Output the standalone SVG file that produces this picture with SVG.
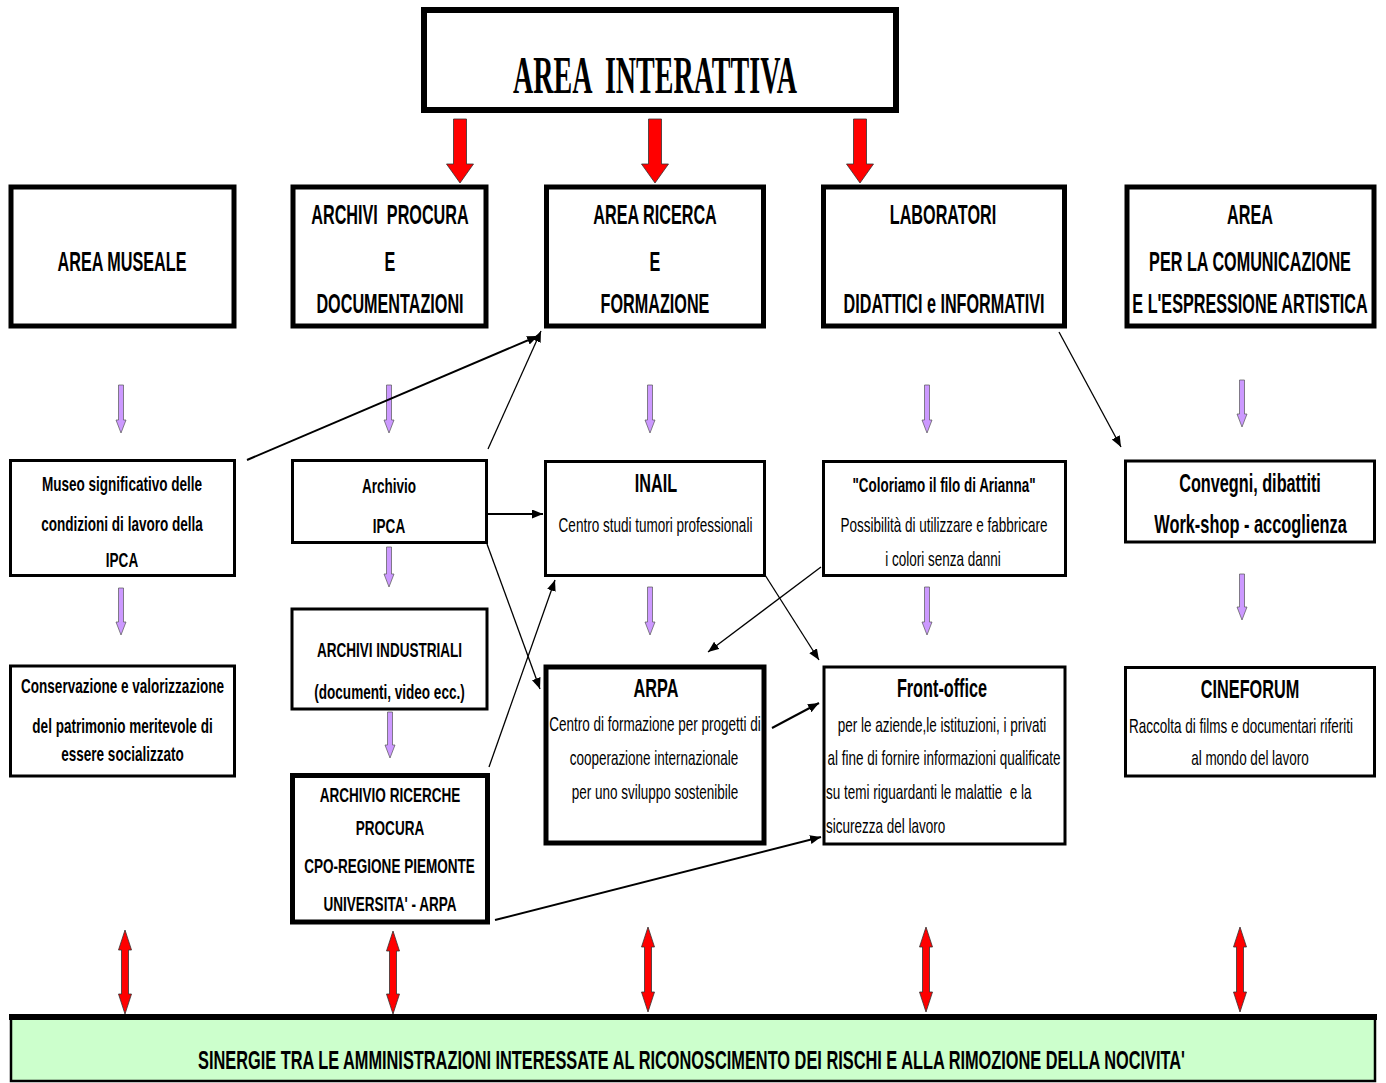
<svg xmlns="http://www.w3.org/2000/svg" width="1386" height="1083" viewBox="0 0 1386 1083">
<style>
  text { font-family: "Liberation Sans", Arial, sans-serif; fill: #000; text-anchor: middle; }
  .h { font-size: 27px; font-weight: bold; }
  .sb { font-size: 21px; font-weight: bold; }
  .bb { font-size: 25px; font-weight: bold; }
  .cb { font-size: 26px; font-weight: bold; }
  .r { font-size: 20px; }
  .l { text-anchor: start; }
  .title { font-family: "Liberation Serif", "Times New Roman", serif; font-size: 53px; font-weight: bold; }
  .box { fill: #fff; stroke: #000; }
  .thick { stroke-width: 5; }
  .thin { stroke-width: 3; }
  .red { fill: #ff0000; stroke: #333; stroke-width: 0.8; }
  .pur { fill: #cc99ff; stroke: #555; stroke-width: 0.7; }
  .con { stroke: #000; fill: none; marker-end: url(#ah); }
</style>
<defs>
  <marker id="ah" markerUnits="userSpaceOnUse" markerWidth="12" markerHeight="10" refX="11" refY="4.5" orient="auto">
    <path d="M0,0 L11,4.5 L0,9 Z" fill="#000"/>
  </marker>
</defs>
<rect x="0" y="0" width="1386" height="1083" fill="#fff"/>

<g id="area-interattiva">
  <rect class="box" x="424" y="10" width="472" height="100" stroke-width="6"/>
  <text class="title" transform="translate(655,93) scale(0.5,1)" textLength="568" lengthAdjust="spacingAndGlyphs" xml:space="preserve">AREA  INTERATTIVA</text>
</g>

<g id="area-museale">
  <rect class="box thick" x="11" y="187" width="223" height="139"/>
  <text class="h" transform="translate(122,271) scale(0.6,1)">AREA MUSEALE</text>
</g>
<g id="archivi-procura">
  <rect class="box thick" x="293" y="187" width="193" height="139"/>
  <text class="h" transform="translate(390,224) scale(0.6,1)" xml:space="preserve">ARCHIVI  PROCURA</text>
  <text class="h" transform="translate(390,271) scale(0.6,1)">E</text>
  <text class="h" transform="translate(390,313) scale(0.6,1)">DOCUMENTAZIONI</text>
</g>
<g id="area-ricerca">
  <rect class="box thick" x="546.5" y="187" width="217" height="139"/>
  <text class="h" transform="translate(655,224) scale(0.6,1)">AREA RICERCA</text>
  <text class="h" transform="translate(655,271) scale(0.6,1)">E</text>
  <text class="h" transform="translate(655,313) scale(0.6,1)">FORMAZIONE</text>
</g>
<g id="laboratori">
  <rect class="box thick" x="823.5" y="187" width="241" height="139"/>
  <text class="h" transform="translate(943,224) scale(0.6,1)">LABORATORI</text>
  <text class="h" transform="translate(944,313) scale(0.6,1)">DIDATTICI e INFORMATIVI</text>
</g>
<g id="area-comunicazione">
  <rect class="box thick" x="1127" y="187" width="247" height="139"/>
  <text class="h" transform="translate(1250,224) scale(0.6,1)">AREA</text>
  <text class="h" transform="translate(1250,271) scale(0.6,1)">PER LA COMUNICAZIONE</text>
  <text class="h" transform="translate(1250,313) scale(0.6,1)">E L'ESPRESSIONE ARTISTICA</text>
</g>

<g id="museo">
  <rect class="box thin" x="10.5" y="460.5" width="224" height="115"/>
  <text class="sb" transform="translate(122,491) scale(0.645,1)">Museo significativo delle</text>
  <text class="sb" transform="translate(122,531) scale(0.645,1)">condizioni di lavoro della</text>
  <text class="sb" transform="translate(122,567) scale(0.645,1)">IPCA</text>
</g>
<g id="archivio-ipca">
  <rect class="box thin" x="292.5" y="460.5" width="194" height="82"/>
  <text class="sb" transform="translate(389,493) scale(0.645,1)">Archivio</text>
  <text class="sb" transform="translate(389,533) scale(0.645,1)">IPCA</text>
</g>
<g id="inail">
  <rect class="box thin" x="545.5" y="461.5" width="219" height="114"/>
  <text class="bb" transform="translate(656,492) scale(0.65,1)">INAIL</text>
  <text class="r" transform="translate(655.5,532) scale(0.676,1)">Centro studi tumori professionali</text>
</g>
<g id="coloriamo">
  <rect class="box thin" x="823.5" y="461.5" width="242" height="114"/>
  <text class="sb" transform="translate(944,492) scale(0.64,1)">"Coloriamo il filo di Arianna"</text>
  <text class="r" transform="translate(944,532) scale(0.675,1)">Possibilità di utilizzare e fabbricare</text>
  <text class="r" transform="translate(943,566) scale(0.675,1)">i colori senza danni</text>
</g>
<g id="convegni">
  <rect class="box thin" x="1125.5" y="461" width="249" height="81"/>
  <text class="cb" transform="translate(1250,492) scale(0.625,1)">Convegni, dibattiti</text>
  <text class="cb" transform="translate(1250.5,533) scale(0.63,1)">Work-shop - accoglienza</text>
</g>

<g id="conservazione">
  <rect class="box thin" x="10.5" y="666" width="224" height="110"/>
  <text class="sb" transform="translate(122.5,693) scale(0.644,1)">Conservazione e valorizzazione</text>
  <text class="sb" transform="translate(122.5,733) scale(0.644,1)">del patrimonio meritevole di</text>
  <text class="sb" transform="translate(122.5,761) scale(0.644,1)">essere socializzato</text>
</g>
<g id="archivi-industriali">
  <rect class="box thin" x="292" y="609" width="195" height="100"/>
  <text class="sb" transform="translate(389.5,657) scale(0.645,1)">ARCHIVI INDUSTRIALI</text>
  <text class="sb" transform="translate(389.5,699) scale(0.645,1)">(documenti, video ecc.)</text>
</g>
<g id="archivio-ricerche">
  <rect class="box thick" x="292.5" y="775.5" width="195" height="146.5"/>
  <text class="sb" transform="translate(390,802) scale(0.645,1)">ARCHIVIO RICERCHE</text>
  <text class="sb" transform="translate(390,835) scale(0.645,1)">PROCURA</text>
  <text class="sb" transform="translate(389.5,873) scale(0.645,1)">CPO-REGIONE PIEMONTE</text>
  <text class="sb" transform="translate(390,911) scale(0.645,1)">UNIVERSITA' - ARPA</text>
</g>
<g id="arpa">
  <rect class="box thick" x="546" y="667" width="218" height="176"/>
  <text class="bb" transform="translate(656,697) scale(0.65,1)">ARPA</text>
  <text class="r" transform="translate(655,731) scale(0.675,1)">Centro di formazione per progetti di</text>
  <text class="r" transform="translate(654,765) scale(0.675,1)">cooperazione internazionale</text>
  <text class="r" transform="translate(655,799) scale(0.675,1)">per uno sviluppo sostenibile</text>
</g>
<g id="front-office">
  <rect class="box thin" x="824" y="667" width="241" height="177"/>
  <text class="bb" transform="translate(942,697) scale(0.65,1)">Front-office</text>
  <text class="r" transform="translate(942,732) scale(0.675,1)">per le aziende,le istituzioni, i privati</text>
  <text class="r" transform="translate(944,765) scale(0.675,1)">al fine di fornire informazioni qualificate</text>
  <text class="r l" transform="translate(826,799) scale(0.675,1)" xml:space="preserve">su temi riguardanti le malattie  e la</text>
  <text class="r l" transform="translate(826,833) scale(0.675,1)">sicurezza del lavoro</text>
</g>
<g id="cineforum">
  <rect class="box thin" x="1125.5" y="667.5" width="249" height="108.5"/>
  <text class="bb" transform="translate(1250,698) scale(0.65,1)">CINEFORUM</text>
  <text class="r" transform="translate(1241,733) scale(0.675,1)">Raccolta di films e documentari riferiti</text>
  <text class="r" transform="translate(1250,765) scale(0.675,1)">al mondo del lavoro</text>
</g>

<g id="sinergie">
  <rect x="11" y="1017" width="1364" height="64" fill="#ccffcc" stroke="#000" stroke-width="2.5"/>
  <line x1="9" y1="1017" x2="1377" y2="1017" stroke="#000" stroke-width="6"/>
  <text class="cb" transform="translate(691.5,1069) scale(0.6,1)" textLength="1645" lengthAdjust="spacingAndGlyphs">SINERGIE TRA LE AMMINISTRAZIONI INTERESSATE AL RICONOSCIMENTO DEI RISCHI E ALLA RIMOZIONE DELLA NOCIVITA'</text>
</g>

<g id="connectors">
  <path class="red" d="M453.5,119 h13 V164 h7 L460,183 L446.5,164 h7 Z"/>
  <path class="red" d="M648.5,119 h13 V164 h7 L655,183 L641.5,164 h7 Z"/>
  <path class="red" d="M853.5,119 h13 V164 h7 L860,183 L846.5,164 h7 Z"/>

  <path class="pur" d="M118.5,385 h5 V420 h2.5 L121,433 L116,420 h2.5 Z"/>
  <path class="pur" d="M118.5,588 h5 V622 h2.5 L121,635 L116,622 h2.5 Z"/>
  <path class="pur" d="M386.5,385 h5 V420 h2.5 L389,433 L384,420 h2.5 Z"/>
  <path class="pur" d="M386.5,547 h5 V574 h2.5 L389,587 L384,574 h2.5 Z"/>
  <path class="pur" d="M387.5,712 h5 V745 h2.5 L390,758 L385,745 h2.5 Z"/>
  <path class="pur" d="M647.5,385 h5 V420 h2.5 L650,433 L645,420 h2.5 Z"/>
  <path class="pur" d="M647.5,587 h5 V622 h2.5 L650,635 L645,622 h2.5 Z"/>
  <path class="pur" d="M924.5,385 h5 V420 h2.5 L927,433 L922,420 h2.5 Z"/>
  <path class="pur" d="M924.5,587 h5 V622 h2.5 L927,635 L922,622 h2.5 Z"/>
  <path class="pur" d="M1239.5,380 h5 V414 h2.5 L1242,427 L1237,414 h2.5 Z"/>
  <path class="pur" d="M1239.5,574 h5 V607 h2.5 L1242,620 L1237,607 h2.5 Z"/>

  <line class="con" x1="247" y1="460" x2="538" y2="336" stroke-width="2"/>
  <line class="con" x1="488" y1="449" x2="541" y2="331" stroke-width="1.3"/>
  <line class="con" x1="488" y1="514" x2="543" y2="514" stroke-width="2"/>
  <line class="con" x1="487" y1="544" x2="540" y2="689" stroke-width="1.3"/>
  <line class="con" x1="489" y1="767" x2="555" y2="580" stroke-width="1.3"/>
  <line class="con" x1="821" y1="567" x2="708" y2="652" stroke-width="1.3"/>
  <line class="con" x1="765" y1="575" x2="819" y2="660" stroke-width="1.3"/>
  <line class="con" x1="1059" y1="332" x2="1121" y2="447" stroke-width="1.3"/>
  <line class="con" x1="772" y1="728" x2="819" y2="703" stroke-width="2"/>
  <line class="con" x1="495" y1="920" x2="821" y2="837" stroke-width="2"/>

  <path class="red" d="M125,930 L131.5,950 h-3 V994 h3 L125,1014 L118.5,994 h3 V950 h-3 Z"/>
  <path class="red" d="M393,931 L399.5,951 h-3 V994 h3 L393,1014 L386.5,994 h3 V951 h-3 Z"/>
  <path class="red" d="M648,927 L654.5,947 h-3 V992 h3 L648,1012 L641.5,992 h3 V947 h-3 Z"/>
  <path class="red" d="M926,927 L932.5,947 h-3 V992 h3 L926,1012 L919.5,992 h3 V947 h-3 Z"/>
  <path class="red" d="M1240,927 L1246.5,947 h-3 V992 h3 L1240,1012 L1233.5,992 h3 V947 h-3 Z"/>
</g>
</svg>
